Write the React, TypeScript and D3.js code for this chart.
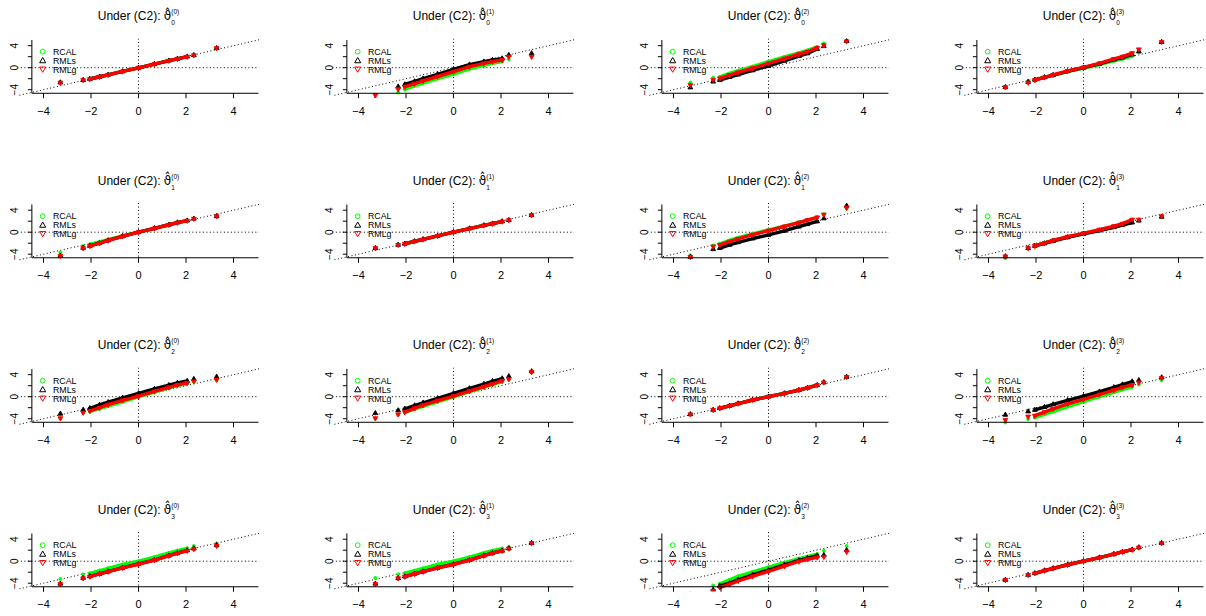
import React from "react";
import * as d3 from "d3";

// Theoretical normal quantiles at probability levels 0.0005, .01, .02, .05, .10, .25, .50, .75, .90, .95, .98, .99, .9995
const THEORETICAL = [-3.29, -2.33, -2.05, -1.64, -1.28, -0.67, 0, 0.67, 1.28, 1.64, 2.05, 2.33, 3.29];
const SERIES_NAMES = ["RCAL", "RMLs", "RMLg"];
const SERIES_COLORS = ["#00ff00", "#000000", "#ff0000"];
const X_TICKS = [-4, -2, 0, 2, 4];
const Y_TICKS = [-4, -2, 0, 2, 4];
const Y_TICK_LABELS = [-4, 0, 4];
const ROW_SUBS = ["0", "1", "2", "3"];
const COL_SUPS = ["(0)", "(1)", "(2)", "(3)"];

// Sample quantiles per panel (row-major, 4x4)
const RCAL_Q = [
  [-2.7, -2.25, -2.05, -1.65, -1.3, -0.68, -0.02, 0.66, 1.27, 1.62, 2.0, 2.28, 3.55],
  [-6.0, -4.5, -3.95, -3.3, -2.8, -2.0, -1.15, -0.2, 0.45, 0.8, 1.1, 1.5, 2.2],
  [-2.7, -1.8, -1.65, -1.05, -0.55, 0.2, 1.1, 1.95, 2.7, 3.15, 3.8, 4.4, 4.9],
  [-3.5, -2.4, -2.15, -1.75, -1.4, -0.7, -0.1, 0.55, 1.25, 1.6, 2.1, 2.8, 4.6],
  [-3.7, -2.5, -2.2, -1.75, -1.35, -0.65, 0.0, 0.7, 1.35, 1.75, 2.15, 2.45, 2.9],
  [-2.9, -2.3, -2.1, -1.65, -1.3, -0.68, 0.0, 0.66, 1.25, 1.55, 1.95, 2.2, 3.1],
  [-4.2, -2.4, -2.1, -1.5, -1.0, -0.3, 0.4, 1.1, 1.8, 2.2, 2.7, 3.3, 4.3],
  [-4.7, -2.9, -2.5, -2.0, -1.5, -0.85, -0.3, 0.35, 0.95, 1.35, 1.85, 2.1, 2.7],
  [-4.0, -2.9, -2.7, -2.15, -1.7, -0.95, -0.05, 0.85, 1.6, 2.0, 2.4, 2.7, 3.0],
  [-4.0, -3.3, -2.85, -2.25, -1.75, -0.95, -0.05, 0.9, 1.7, 2.2, 2.75, 3.1, 4.4],
  [-3.2, -2.4, -2.1, -1.65, -1.25, -0.6, 0.0, 0.6, 1.2, 1.6, 2.1, 2.6, 3.6],
  [-4.7, -4.1, -3.8, -3.2, -2.7, -1.8, -0.9, 0.0, 0.8, 1.3, 1.8, 2.2, 3.0],
  [-3.25, -2.4, -2.2, -1.7, -1.3, -0.6, 0.0, 0.75, 1.5, 1.9, 2.35, 2.75, 3.25],
  [-3.05, -2.4, -2.15, -1.7, -1.3, -0.6, 0.0, 0.75, 1.5, 1.9, 2.3, 2.6, 3.3],
  [-5.8, -4.4, -4.1, -3.4, -2.75, -1.95, -1.1, -0.25, 0.45, 0.85, 1.3, 1.9, 2.75],
  [-3.4, -2.5, -2.2, -1.7, -1.3, -0.65, 0.0, 0.65, 1.3, 1.7, 2.1, 2.5, 3.3],
];

const RMLS_Q = [
  [-2.7, -2.25, -2.05, -1.65, -1.3, -0.68, -0.02, 0.66, 1.27, 1.62, 2.0, 2.28, 3.55],
  [-5.8, -3.45, -3.05, -2.5, -2.0, -1.2, -0.3, 0.55, 1.1, 1.4, 1.65, 2.3, 2.6],
  [-3.6, -2.55, -2.25, -1.7, -1.25, -0.5, 0.35, 1.25, 2.1, 2.6, 3.4, 3.9, 4.85],
  [-3.55, -2.6, -2.2, -1.75, -1.35, -0.65, 0.0, 0.7, 1.45, 1.85, 2.4, 2.95, 4.65],
  [-4.3, -2.85, -2.5, -2.0, -1.5, -0.75, 0.0, 0.7, 1.35, 1.75, 2.1, 2.45, 2.9],
  [-2.9, -2.3, -2.1, -1.65, -1.3, -0.68, 0.0, 0.66, 1.25, 1.55, 1.95, 2.2, 3.1],
  [-4.5, -3.1, -2.9, -2.3, -1.85, -1.15, -0.5, 0.25, 1.0, 1.45, 1.95, 2.5, 4.8],
  [-4.4, -2.9, -2.5, -2.05, -1.6, -0.95, -0.3, 0.3, 0.9, 1.3, 1.75, 2.1, 2.8],
  [-3.1, -2.4, -2.1, -1.5, -1.0, -0.2, 0.6, 1.4, 2.1, 2.5, 2.85, 3.2, 3.6],
  [-3.0, -2.5, -2.2, -1.6, -1.1, -0.3, 0.6, 1.5, 2.3, 2.8, 3.3, 3.7, 4.6],
  [-3.2, -2.4, -2.1, -1.65, -1.25, -0.6, 0.0, 0.6, 1.2, 1.6, 2.1, 2.6, 3.6],
  [-3.3, -2.7, -2.4, -1.9, -1.4, -0.65, 0.1, 0.9, 1.7, 2.2, 2.75, 3.0, 3.5],
  [-4.1, -3.05, -2.75, -2.3, -1.9, -1.2, -0.5, 0.2, 1.0, 1.45, 1.95, 2.3, 2.9],
  [-4.1, -3.1, -2.8, -2.3, -1.9, -1.2, -0.55, 0.2, 1.0, 1.45, 1.9, 2.3, 3.3],
  [-6.5, -5.2, -4.5, -4.0, -3.4, -2.5, -1.6, -0.65, 0.15, 0.55, 1.0, 1.1, 2.0],
  [-3.4, -2.5, -2.2, -1.7, -1.3, -0.65, 0.0, 0.65, 1.3, 1.7, 2.1, 2.5, 3.3],
];

const RMLG_Q = [
  [-2.7, -2.25, -2.05, -1.65, -1.3, -0.68, -0.02, 0.66, 1.27, 1.62, 2.0, 2.28, 3.55],
  [-5.0, -3.9, -3.45, -2.9, -2.4, -1.6, -0.7, 0.2, 0.8, 1.1, 1.4, 2.0, 2.0],
  [-3.15, -2.2, -1.95, -1.35, -0.85, -0.1, 0.8, 1.65, 2.45, 2.9, 3.6, 4.1, 4.8],
  [-3.55, -2.7, -2.25, -1.75, -1.3, -0.6, 0.05, 0.8, 1.6, 2.0, 2.65, 3.35, 4.7],
  [-4.3, -2.9, -2.5, -2.0, -1.5, -0.75, 0.0, 0.7, 1.35, 1.75, 2.1, 2.45, 2.9],
  [-2.9, -2.3, -2.1, -1.65, -1.3, -0.68, 0.0, 0.66, 1.25, 1.55, 1.95, 2.2, 3.1],
  [-4.5, -2.6, -2.3, -1.7, -1.2, -0.45, 0.3, 1.05, 1.75, 2.2, 2.7, 3.2, 4.45],
  [-4.4, -2.9, -2.5, -1.95, -1.5, -0.8, -0.2, 0.45, 1.1, 1.55, 2.3, 2.3, 2.9],
  [-3.9, -2.9, -2.6, -2.0, -1.45, -0.65, 0.1, 0.95, 1.7, 2.15, 2.5, 2.8, 3.1],
  [-3.9, -3.2, -2.8, -2.1, -1.55, -0.7, 0.1, 1.0, 1.85, 2.35, 2.9, 3.2, 4.5],
  [-3.2, -2.4, -2.1, -1.65, -1.25, -0.6, 0.0, 0.6, 1.2, 1.6, 2.1, 2.6, 3.6],
  [-4.2, -3.6, -3.45, -2.8, -2.2, -1.3, -0.5, 0.4, 1.2, 1.7, 2.15, 2.6, 3.4],
  [-4.15, -3.1, -2.8, -2.3, -1.9, -1.2, -0.55, 0.2, 1.0, 1.45, 1.9, 2.2, 2.8],
  [-4.15, -3.1, -2.8, -2.3, -1.9, -1.2, -0.6, 0.2, 1.0, 1.45, 1.9, 2.3, 3.3],
  [-6.6, -5.4, -4.75, -4.2, -3.6, -2.75, -1.85, -0.9, -0.05, 0.35, 0.7, 0.8, 1.7],
  [-3.4, -2.5, -2.2, -1.7, -1.3, -0.65, 0.0, 0.65, 1.3, 1.7, 2.1, 2.5, 3.3],
];

const SERIES_DATA = [RCAL_Q, RMLS_Q, RMLG_Q];

// layout
const COL_STEP = 315;
const ROW_STEP = 164.5;
const X_ORIGIN = 138.5;
const Y_ORIGIN = 67.7;
const X_UNIT = 23.75;
const Y_UNIT = 5.5;
const FONT = "'Liberation Sans', Arial, Helvetica, sans-serif";

function markerPath(s: number, size: number) {
  if (s === 0) return d3.symbol(d3.symbolCircle, size)()!;
  return d3.symbol(d3.symbolTriangle, size)()!;
}

function Panel({ r, c }: { r: number; c: number }) {
  const cx = X_ORIGIN + c * COL_STEP;
  const cy = Y_ORIGIN + r * ROW_STEP;
  const x = d3.scaleLinear().domain([0, 1]).range([cx, cx + X_UNIT]);
  const y = d3.scaleLinear().domain([0, 1]).range([cy, cy - Y_UNIT]);
  const idx = r * 4 + c;
  const clipId = `clip-${r}-${c}`;
  const axL = x(-4.49);
  const axR = x(5.05);
  const axB = y(-4.65);
  const axT = y(5.04);
  const clL = x(-5.1);
  const clR = x(5.08);
  const clT = y(5.3);
  const clB = y(-5.45);
  const band = d3
    .line<number>()
    .x((_, i) => x(THEORETICAL[i + 2]))
    .y((v) => y(v));

  return (
    <g>
      <defs>
        <clipPath id={clipId}>
          <rect x={clL} y={clT} width={clR - clL} height={clB - clT} />
        </clipPath>
      </defs>
      {/* title */}
      <text x={cx} y={cy - 47.7} textAnchor="middle" fontFamily={FONT} fontSize={12} fill="#000">
        <tspan>Under (C2): </tspan>
        <tspan fontFamily="'DejaVu Sans', sans-serif">{"\u03D1\u0302"}</tspan>
        <tspan fontSize={6.5} dy={-6}>{COL_SUPS[c]}</tspan>
        <tspan fontSize={6.5} dx={-8} dy={11}>{ROW_SUBS[r]}</tspan>
        <tspan fontSize={6.5} dx={2} dy={-5} fill="none">{" "}</tspan>
      </text>
      {/* reference lines */}
      <g clipPath={`url(#${clipId})`} stroke="#000" strokeWidth={1} strokeDasharray="1 2.5" fill="none">
        <line x1={x(-5.3)} y1={y(-5.3)} x2={x(5.1)} y2={y(5.1)} />
        <line x1={clL} y1={y(0)} x2={clR} y2={y(0)} />
        <line x1={x(0)} y1={clT} x2={x(0)} y2={clB} />
      </g>
      {/* data */}
      <g clipPath={`url(#${clipId})`}>
        {SERIES_DATA.map((data, s) => {
          const vals = data[idx];
          const mid = vals.slice(2, 11);
          return (
            <g key={s}>
              <path d={band(mid)!} fill="none" stroke={SERIES_COLORS[s]} strokeWidth={3.4} strokeLinecap="round" strokeLinejoin="round" />
              {vals.map((v, i) => (
                <path
                  key={i}
                  d={markerPath(s, s === 0 ? 7 : 10)}
                  transform={`translate(${x(THEORETICAL[i])},${y(v)})${s === 2 ? " rotate(180)" : ""}`}
                  fill={SERIES_COLORS[s]}
                  stroke={SERIES_COLORS[s]}
                  strokeWidth={0.9}
                />
              ))}
            </g>
          );
        })}
      </g>
      {/* axes */}
      <g stroke="#000" strokeWidth={1} fill="none">
        <line x1={axL} y1={axB} x2={axR} y2={axB} />
        <line x1={axL} y1={axT} x2={axL} y2={axB} />
        {X_TICKS.map((t) => (
          <line key={`xt${t}`} x1={x(t)} y1={axB} x2={x(t)} y2={axB + 5} />
        ))}
        {Y_TICKS.map((t) => (
          <line key={`yt${t}`} x1={axL} y1={y(t)} x2={axL - 4} y2={y(t)} />
        ))}
      </g>
      {X_TICKS.map((t) => (
        <text key={`xl${t}`} x={x(t)} y={axB + 21.5} textAnchor="middle" fontFamily={FONT} fontSize={11} fill="#000">
          {t < 0 ? `\u2212${Math.abs(t)}` : `${t}`}
        </text>
      ))}
      {Y_TICK_LABELS.map((t) => (
        <text
          key={`yl${t}`}
          transform={`translate(${axL - 14},${y(t)}) rotate(-90)`}
          textAnchor="middle"
          fontFamily={FONT}
          fontSize={10}
          fill="#000"
        >
          {t < 0 ? `\u2212${Math.abs(t)}` : `${t}`}
        </text>
      ))}
      {/* legend */}
      {SERIES_NAMES.map((name, s) => {
        const ly = cy - 16 + s * 8.8;
        const lx = cx - 95.8;
        return (
          <g key={name}>
            <path
              d={markerPath(s, s === 0 ? 18 : 16)}
              transform={`translate(${lx},${ly + (s === 1 ? 0.5 : s === 2 ? -0.5 : 0)})${s === 2 ? " rotate(180)" : ""}`}
              fill="none"
              stroke={SERIES_COLORS[s]}
              strokeWidth={1}
            />
            <text x={lx + 10.3} y={ly + 3.2} fontFamily={FONT} fontSize={8.8} fill="#000">
              {name}
            </text>
          </g>
        );
      })}
    </g>
  );
}

export default function App() {
  const rows = [0, 1, 2, 3];
  const cols = [0, 1, 2, 3];
  return (
    <svg
      width={1206}
      height={616}
      style={{ position: "absolute", left: 0, top: 0, background: "#fff" }}
      xmlns="http://www.w3.org/2000/svg"
    >
      <rect x={0} y={0} width={1206} height={616} fill="#fff" />
      {rows.map((r) => cols.map((c) => <Panel key={`${r}-${c}`} r={r} c={c} />))}
    </svg>
  );
}
